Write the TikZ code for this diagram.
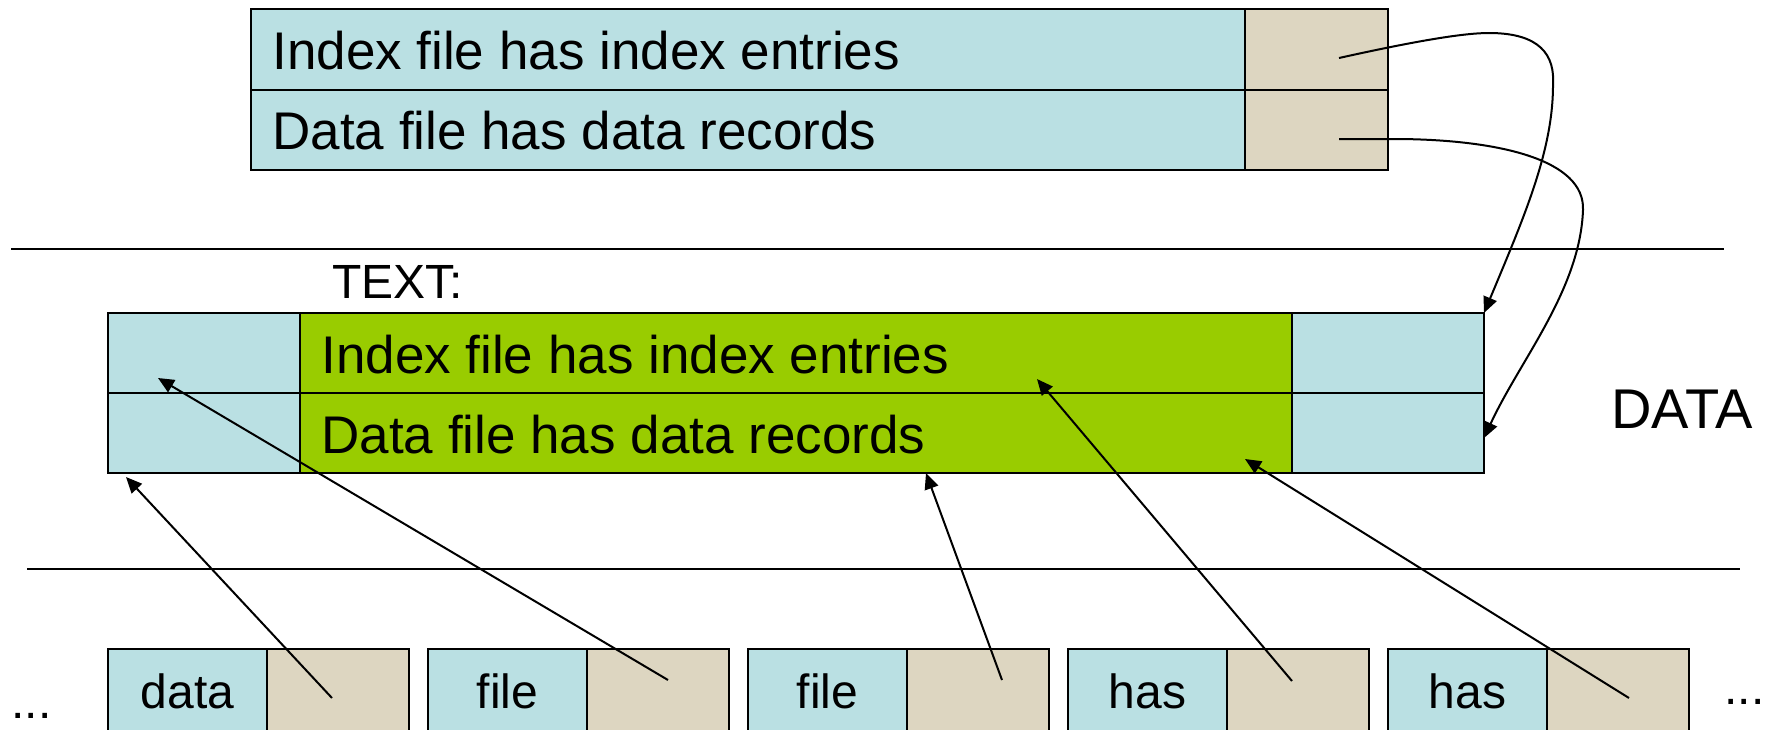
\documentclass[tikz,border=0pt]{standalone}
\usepackage{fontspec}
\setmainfont{Liberation Sans}
\usetikzlibrary{arrows.meta}
\definecolor{cellblue}{RGB}{186,224,227}
\definecolor{celltan}{RGB}{221,214,193}
\definecolor{cellgreen}{RGB}{153,204,0}

% a rectangular cell given by its corners (x1,y1) and (x2,y2)
\newcommand\cellbox[6]{%
  \node[cell, fill=#6,
        minimum width={(#4-#2)*0.5pt}, minimum height={(#5-#3)*0.5pt}]
        (#1) at ({(#2+#4)/2},{(#3+#5)/2}) {};}

\begin{document}
\begin{tikzpicture}[x=0.5pt,y=-0.5pt,
  cell/.style={draw=black, line width=1.3pt, inner sep=0pt, outer sep=0pt},
  bigtxt/.style={inner sep=0pt, font=\fontsize{26.5pt}{30pt}\selectfont},
  midtxt/.style={inner sep=0pt, font=\fontsize{24pt}{28pt}\selectfont},
  rule/.style={line width=1pt},
  ptr/.style={line width=1pt, -{Triangle[length=8pt,width=7pt]}}]

\clip (0,0) rectangle (1767,729);
\fill[white] (0,0) rectangle (1767,729);

% index record on top
\cellbox{t1a}{251}{9}{1245}{90}{cellblue}
\cellbox{t1b}{1245}{9}{1388}{90}{celltan}
\cellbox{t2a}{251}{90}{1245}{170}{cellblue}
\cellbox{t2b}{1245}{90}{1388}{170}{celltan}
\node[bigtxt, anchor=base west] (lt1) at (272,69) {Index file has index entries};
\node[bigtxt, anchor=base west] (lt2) at (272,149) {Data file has data records};

% separators
\coordinate (r1a) at (11,249);  \coordinate (r1b) at (1724,249);
\coordinate (r2a) at (27,569);  \coordinate (r2b) at (1740,569);
\draw[rule] (r1a) -- (r1b);
\draw[rule] (r2a) -- (r2b);

% text area
\node[midtxt, anchor=base west] (ltext) at (332,298) {TEXT:};
\cellbox{m1a}{108}{313}{300}{393}{cellblue}
\cellbox{m1b}{300}{313}{1292}{393}{cellgreen}
\cellbox{m1c}{1292}{313}{1484}{393}{cellblue}
\cellbox{m2a}{108}{393}{300}{473}{cellblue}
\cellbox{m2b}{300}{393}{1292}{473}{cellgreen}
\cellbox{m2c}{1292}{393}{1484}{473}{cellblue}
\node[bigtxt, anchor=base west] (lm1) at (321,373) {Index file has index entries};
\node[bigtxt, anchor=base west] (lm2) at (321,453) {Data file has data records};
\node[inner sep=0pt, font=\fontsize{28pt}{32pt}\selectfont, anchor=base west]
  (ldata) at (1611,428) {DATA};

% word list
\cellbox{b1a}{108}{649}{267}{780}{cellblue}
\cellbox{b1b}{267}{649}{409}{780}{celltan}
\cellbox{b2a}{428}{649}{587}{780}{cellblue}
\cellbox{b2b}{587}{649}{729}{780}{celltan}
\cellbox{b3a}{748}{649}{907}{780}{cellblue}
\cellbox{b3b}{907}{649}{1049}{780}{celltan}
\cellbox{b4a}{1068}{649}{1227}{780}{cellblue}
\cellbox{b4b}{1227}{649}{1369}{780}{celltan}
\cellbox{b5a}{1388}{649}{1547}{780}{cellblue}
\cellbox{b5b}{1547}{649}{1689}{780}{celltan}
\node[midtxt, anchor=base] (w1) at (187.5,708) {data};
\node[midtxt, anchor=base] (w2) at (507.5,708) {file};
\node[midtxt, anchor=base] (w3) at (827.5,708) {file};
\node[midtxt, anchor=base] (w4) at (1147.5,708) {has};
\node[midtxt, anchor=base] (w5) at (1467.5,708) {has};
\node[midtxt, anchor=base west] (dl) at (11,718) {...};
\node[midtxt, anchor=base west] (dr) at (1724,704) {...};

% pointer origins and targets
\coordinate (p1) at (1339,58);
\coordinate (p2) at (1339,139);
\coordinate (q2) at (1484,438);
\coordinate (s1) at (332,698);  \coordinate (e1) at (126,477);
\coordinate (s2) at (668,680);  \coordinate (e2) at (158,378);
\coordinate (s3) at (1002,680); \coordinate (e3) at (926,473);
\coordinate (s4) at (1292,681); \coordinate (e4) at (1037,379);
\coordinate (s5) at (1629,698); \coordinate (e5) at (1245,459);

\draw[ptr] (p1) .. controls (1420,40) and (1465,33) .. (1489,33)
  .. controls (1540,33) and (1555,55) .. (1553,85)
  .. controls (1553,150) and (1525,215) .. (m1c.north east);
\draw[ptr] (p2) -- (1400,139) .. controls (1500,140) and (1585,160) .. (1583,210)
  .. controls (1580,290) and (1520,360) .. (q2);

\draw[ptr] (s1) -- (e1);
\draw[ptr] (s2) -- (e2);
\draw[ptr] (s3) -- (e3);
\draw[ptr] (s4) -- (e4);
\draw[ptr] (s5) -- (e5);
\end{tikzpicture}
\end{document}
